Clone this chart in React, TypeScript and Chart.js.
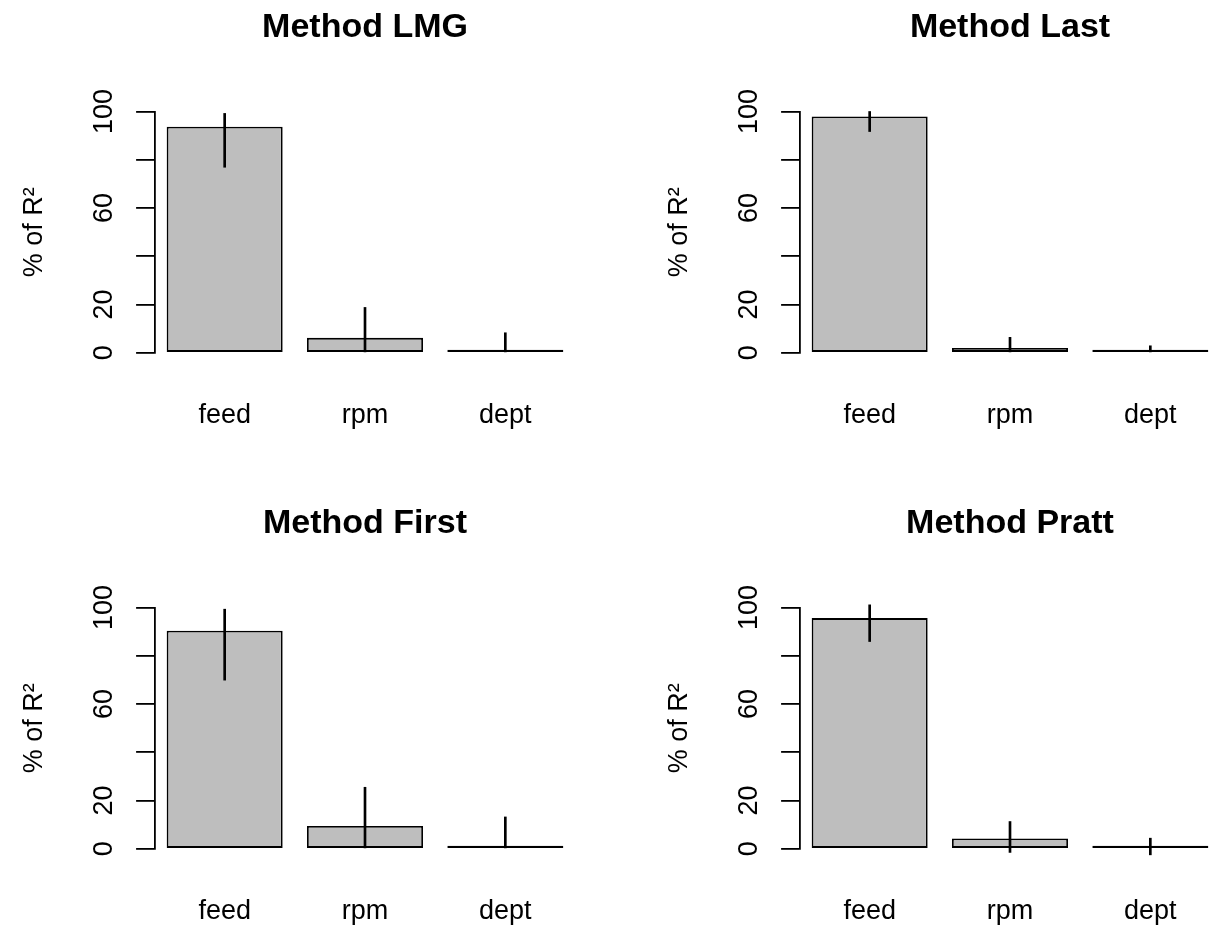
import React, { useEffect, useRef } from 'react';
import { Chart, registerables } from 'chart.js';

Chart.register(...registerables);

// ---- data ----
const categories = ['feed', 'rpm', 'dept'];

const lmgValues = [93.7, 6.2, 0.1];
const lmgLower = [76.9, 0, 0];
const lmgUpper = [99.2, 18.8, 8.3];

const lastValues = [97.9, 2.0, 0.1];
const lastLower = [91.7, 0, 0];
const lastUpper = [100.0, 6.4, 2.9];

const firstValues = [90.4, 9.5, 0.1];
const firstLower = [69.9, 0, 0];
const firstUpper = [99.3, 25.5, 13.2];

const prattValues = [95.6, 4.3, 0.1];
const prattLower = [85.9, -1.5, -2.5];
const prattUpper = [101.1, 11.3, 4.4];

const yTickValues = [0, 20, 40, 60, 80, 100];
const yTickLabels = ['0', '20', '', '60', '', '100'];
const yAxisTitle = '% of R\u00B2';

const panels = [
  { title: 'Method LMG', values: lmgValues, lower: lmgLower, upper: lmgUpper },
  { title: 'Method Last', values: lastValues, lower: lastLower, upper: lastUpper },
  { title: 'Method First', values: firstValues, lower: firstLower, upper: firstUpper },
  { title: 'Method Pratt', values: prattValues, lower: prattLower, upper: prattUpper },
];

const FONT = '"Liberation Sans", Arial, Helvetica, sans-serif';
const PANEL_W = 645;
const PANEL_H = 496;

type PanelProps = { title: string; values: number[]; lower: number[]; upper: number[] };

function Panel({ title, values, lower, upper }: PanelProps) {
  const ref = useRef<HTMLCanvasElement | null>(null);

  useEffect(() => {
    if (!ref.current) return;
    const chart = new Chart(ref.current, {
      type: 'bar',
      data: {
        labels: categories,
        datasets: [
          {
            label: 'interval',
            data: lower.map((l, i) => [l, upper[i]]) as any,
            backgroundColor: '#000000',
            borderWidth: 0,
            barThickness: 2,
            grouped: false,
            clip: false as any,
            order: 0,
          },
          {
            label: 'share',
            data: values,
            backgroundColor: '#BEBEBE',
            borderColor: '#000000',
            borderWidth: 1.8,
            borderSkipped: false,
            minBarLength: 3,
            barPercentage: 0.8266,
            categoryPercentage: 1,
            grouped: false,
            order: 1,
          },
        ],
      },
      options: {
        animation: false,
        responsive: false,
        devicePixelRatio: 1,
        events: [],
        layout: { padding: { left: 16, right: 69.5, top: 0, bottom: 43.2 } },
        plugins: {
          legend: { display: false },
          tooltip: { enabled: false },
          title: {
            display: true,
            text: title,
            color: '#000000',
            fullSize: false,
            font: { family: FONT, size: 34, weight: 'bold', lineHeight: 1.2 },
            padding: { top: 7, bottom: 63.7 },
          },
        },
        scales: {
          x: {
            type: 'category',
            offset: true,
            grid: { display: false },
            border: { display: false },
            ticks: {
              color: '#000000',
              font: { family: FONT, size: 27 },
              padding: 39,
              maxRotation: 0,
              autoSkip: false,
            },
            afterFit: (scale: any) => {
              scale.height = 100;
            },
          },
          y: {
            type: 'linear',
            min: 0,
            max: 100,
            afterBuildTicks: (scale: any) => {
              scale.ticks = yTickValues.map((v) => ({ value: v }));
            },
            afterFit: (scale: any) => {
              scale.width = 138.5;
            },
            grid: {
              display: true,
              drawOnChartArea: false,
              drawTicks: true,
              tickLength: 18.4,
              color: '#000000',
              lineWidth: 1.8,
            },
            border: { display: true, color: '#000000', width: 1.8 },
            ticks: {
              color: '#000000',
              font: { family: FONT, size: 27 },
              minRotation: 90,
              maxRotation: 90,
              crossAlign: 'center',
              padding: 9,
              autoSkip: false,
              callback: (value: any) => {
                const i = yTickValues.indexOf(Number(value));
                return i >= 0 ? yTickLabels[i] : '';
              },
            },
            title: {
              display: true,
              text: yAxisTitle,
              color: '#000000',
              font: { family: FONT, size: 27, lineHeight: 1.2 },
              padding: { top: 2, bottom: 0 },
            },
          },
        },
      },
    });
    return () => chart.destroy();
  }, [title, values, lower, upper]);

  return <canvas ref={ref} width={PANEL_W} height={PANEL_H} style={{ display: 'block' }} />;
}

export default function App() {
  useEffect(() => {
    document.body.style.margin = '0';
  }, []);
  return (
    <div
      style={{
        position: 'fixed',
        left: 0,
        top: 0,
        width: 1210,
        height: 929,
        overflow: 'hidden',
        background: '#ffffff',
      }}
    >
      {panels.map((p, i) => (
        <div
          key={p.title}
          style={{
            position: 'absolute',
            left: (i % 2) * PANEL_W,
            top: Math.floor(i / 2) * PANEL_H,
            width: PANEL_W,
            height: PANEL_H,
          }}
        >
          <Panel title={p.title} values={p.values} lower={p.lower} upper={p.upper} />
        </div>
      ))}
    </div>
  );
}
